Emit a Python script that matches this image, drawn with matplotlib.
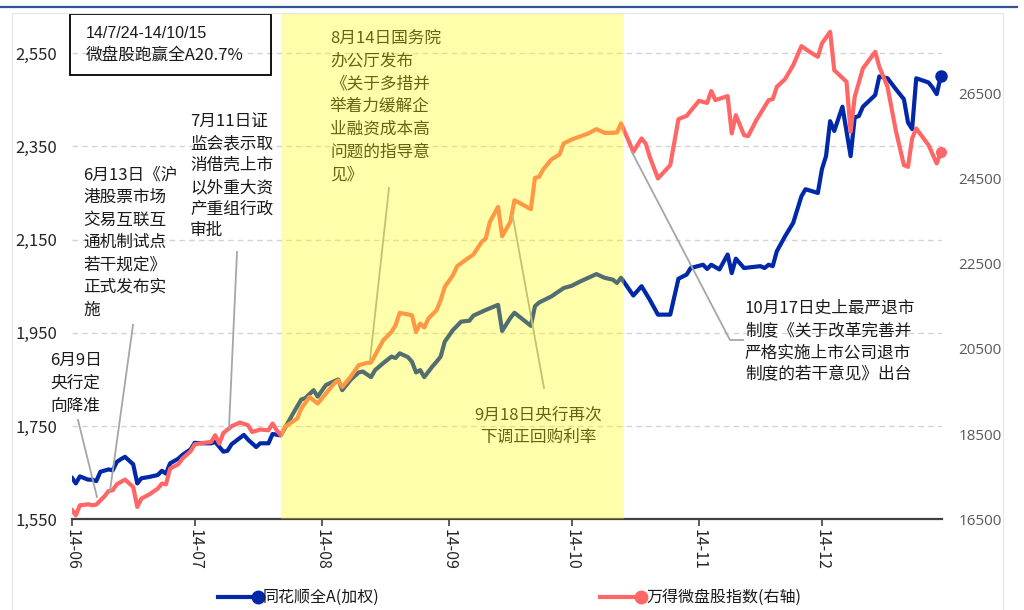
import matplotlib
matplotlib.use("Agg")
import matplotlib.pyplot as plt
from matplotlib.lines import Line2D
from matplotlib.patches import Rectangle
from matplotlib.ticker import FuncFormatter
import pandas as pd

plt.rcParams['font.family'] = ['Noto Sans CJK SC', 'DejaVu Sans']

# ---------------- data ----------------
blue_dates = [
    '06-01', '06-02', '06-03', '06-05', '06-06', '06-07', '06-08', '06-10', '06-11', '06-12', '06-13', '06-14',
    '06-16', '06-17', '06-18', '06-20', '06-22', '06-23', '06-24', '06-25', '06-27', '06-28', '06-30',
    '07-01', '07-03', '07-05', '07-06', '07-08', '07-09', '07-10', '07-13', '07-14', '07-16', '07-17', '07-19',
    '07-20', '07-22', '07-25', '07-27', '07-28', '07-30', '07-31',
    '08-02', '08-05', '08-06', '08-08', '08-10', '08-11', '08-13', '08-14', '08-16', '08-18', '08-19', '08-20',
    '08-22', '08-23', '08-24', '08-25', '08-26', '08-28', '08-29', '08-30', '08-31',
    '09-02', '09-04', '09-06', '09-07', '09-10', '09-13', '09-14', '09-16', '09-17', '09-21', '09-22', '09-23',
    '09-26', '09-29',
    '10-01', '10-03', '10-05', '10-07', '10-09', '10-11', '10-12', '10-13', '10-16', '10-18', '10-20', '10-22',
    '10-25', '10-27', '10-29', '10-30',
    '11-02', '11-03', '11-04', '11-06', '11-08', '11-09', '11-10', '11-12', '11-16', '11-17', '11-18', '11-19',
    '11-20', '11-22', '11-24', '11-26', '11-27', '11-30',
    '12-01', '12-02', '12-03', '12-04', '12-06', '12-08', '12-09', '12-10', '12-11', '12-14', '12-15', '12-17',
    '12-19', '12-21', '12-22', '12-23', '12-24', '12-27', '12-28', '12-29', '12-30',
]
blue_values = [
    1640, 1627, 1642, 1635, 1635, 1632, 1652, 1657, 1655, 1673, 1679, 1684,
    1668, 1627, 1638, 1641, 1645, 1654, 1648, 1670, 1680, 1688, 1700,
    1714, 1713, 1713, 1716, 1695, 1697, 1711, 1731, 1721, 1705, 1713, 1713,
    1733, 1730, 1777, 1807, 1810, 1827, 1813,
    1838, 1850, 1827, 1849, 1865, 1867, 1855, 1870, 1885, 1899, 1896, 1906,
    1898, 1888, 1865, 1870, 1855, 1878, 1888, 1899, 1931,
    1956, 1974, 1976, 1987, 1999, 2010, 1954, 1982, 1993, 1965, 2007, 2015,
    2028, 2046,
    2051, 2060, 2068, 2076, 2068, 2064, 2057, 2068, 2030, 2050, 2021, 1989,
    1989, 2066, 2075, 2089,
    2096, 2087, 2096, 2086, 2118, 2078, 2109, 2089, 2093, 2089, 2096, 2093,
    2125, 2157, 2186, 2243, 2258, 2250,
    2301, 2329, 2404, 2383, 2435, 2329, 2412, 2415, 2435, 2460, 2500, 2496,
    2473, 2451, 2401, 2387, 2496, 2487, 2476, 2462, 2501,
]
red_dates = [
    '06-01', '06-02', '06-03', '06-05', '06-06', '06-07', '06-09', '06-10', '06-11', '06-12', '06-14', '06-16',
    '06-17', '06-18', '06-20', '06-22', '06-23', '06-24', '06-25', '06-27', '06-28', '06-30',
    '07-01', '07-03', '07-05', '07-06', '07-07', '07-08', '07-10', '07-12', '07-14', '07-15', '07-17', '07-19',
    '07-20', '07-21', '07-22', '07-23', '07-26', '07-27', '07-29', '07-31',
    '08-02', '08-04', '08-05', '08-06', '08-08', '08-10', '08-12', '08-13', '08-14', '08-16', '08-18', '08-19',
    '08-20', '08-23', '08-24', '08-25', '08-26', '08-27', '08-29', '08-30', '08-31',
    '09-02', '09-03', '09-05', '09-07', '09-09', '09-10', '09-11', '09-13', '09-14', '09-16', '09-17', '09-21',
    '09-22', '09-23', '09-24', '09-26', '09-28', '09-29',
    '10-01', '10-05', '10-07', '10-09', '10-11', '10-12', '10-13', '10-16', '10-18', '10-19', '10-20', '10-22',
    '10-25', '10-27', '10-29',
    '11-01', '11-03', '11-04', '11-05', '11-08', '11-09', '11-10', '11-12', '11-13', '11-15', '11-18', '11-19',
    '11-20', '11-22', '11-24', '11-26', '11-28', '11-30',
    '12-01', '12-03', '12-04', '12-07', '12-08', '12-09', '12-11', '12-14', '12-15', '12-17', '12-19', '12-21',
    '12-22', '12-23', '12-24', '12-27', '12-29', '12-30',
]
red_values = [
    16728, 16594, 16829, 16852, 16829, 16845, 17040, 17164, 17181, 17322, 17432, 17258,
    16789, 16986, 17087, 17221, 17338, 17322, 17690, 17791, 17925, 18096,
    18258, 18291, 18315, 18472, 18277, 18526, 18683, 18770, 18707, 18549, 18606, 18589,
    18746, 18589, 18472, 18667, 18864, 19099, 19371, 19216,
    19451, 19685, 19763, 19606, 19840, 20115, 20169, 20178, 20350, 20702, 20897, 21054,
    21343, 21289, 20897, 21094, 21000, 21211, 21406, 21641, 21953,
    22228, 22439, 22580, 22714, 23009, 23089, 23479, 23831, 23143, 23479, 23988, 23777,
    24512, 24535, 24709, 24944, 25061, 25319,
    25413, 25554, 25655, 25568, 25568, 25577, 25789, 25122, 25437, 25319, 25005, 24498,
    24810, 25890, 25967,
    26319, 26270, 26547, 26336, 26430, 25554, 25984, 25514, 25491, 25866, 26336, 26359,
    26648, 26829, 27157, 27603, 27469, 27352,
    27667, 27939, 27040, 26765, 25592, 26413, 27080, 27469, 27117, 26648, 25631, 24810,
    24770, 25437, 25671, 25279, 24850, 25122,
]
left_ticks = [1550, 1750, 1950, 2150, 2350, 2550]
right_ticks = [16500, 18500, 20500, 22500, 24500, 26500]
month_ticks = ['2014-06-01', '2014-07-01', '2014-08-01', '2014-09-01', '2014-10-01', '2014-11-01', '2014-12-01']
month_labels = ['14-06', '14-07', '14-08', '14-09', '14-10', '14-11', '14-12']
highlight_start, highlight_end = '2014-07-22', '2014-10-13 16:00'
series_names = ['同花顺全A(加权)', '万得微盘股指数(右轴)']
box_lines = ['14/7/24-14/10/15', '微盘股跑赢全A20.7%']
note_0609 = ['6月9日', '央行定', '向降准']
note_0613 = ['6月13日《沪', '港股票市场', '交易互联互', '通机制试点', '若干规定》', '正式发布实', '施']
note_0711 = ['7月11日证', '监会表示取', '消借壳上市', '以外重大资', '产重组行政', '审批']
note_0814 = ['8月14日国务院', '办公厅发布', '《关于多措并', '举着力缓解企', '业融资成本高', '问题的指导意', '见》']
note_0918 = ['9月18日央行再次', '下调正回购利率']
note_1017 = ['10月17日史上最严退市', '制度《关于改革完善并', '严格实施上市公司退市', '制度的若干意见》出台']

# ---------------- style ----------------
BLUE = '#0028A8'
RED = '#FF6666'
TXT = '#1A1A1A'
LEAD = '#A6A6A6'
W, H = 1024, 610
L, R, B, T = 71.7, 941.5, 519.3, 13.0

fig = plt.figure(figsize=(W / 100, H / 100), dpi=100)
ax = fig.add_axes([L / W, 1 - B / H, (R - L) / W, (B - T) / H])
ax2 = ax.twinx()

bd = pd.to_datetime(['2014-' + s for s in blue_dates])
rd = pd.to_datetime(['2014-' + s for s in red_dates])

ax.plot(bd, blue_values, color=BLUE, lw=3.0, solid_joinstyle='round', solid_capstyle='round', zorder=3)
ax.plot(bd[-1:], blue_values[-1:], 'o', color=BLUE, ms=8, zorder=4, clip_on=False)
ax2.plot(rd, red_values, color=RED, lw=3.0, solid_joinstyle='round', solid_capstyle='round', zorder=3)
ax2.plot(rd[-1:], red_values[-1:], 'o', color=RED, ms=7, zorder=4, clip_on=False)

ax.set_xlim(pd.Timestamp('2014-06-01'), pd.Timestamp('2014-12-30 04:00'))
ax.set_ylim(1550, 2636)
ax2.set_ylim(16500, 28380)

ax.set_yticks(left_ticks)
ax.yaxis.set_major_formatter(FuncFormatter(lambda v, p: f'{v:,.0f}'))
ax.tick_params(axis='y', length=0, pad=10.5, labelsize=12, labelcolor='#262626')
ax2.set_yticks(right_ticks)
ax2.tick_params(axis='y', length=0, pad=12, labelsize=11, labelcolor='#595959')
for lab in ax2.get_yticklabels():
    lab.set_fontfamily(['Open Sans', 'DejaVu Sans'])

ax.set_xticks(pd.to_datetime(month_ticks))
ax.set_xticklabels(month_labels, rotation=-90, fontsize=11.5, color='#262626')
ax.tick_params(axis='x', direction='out', length=5, width=1.2, color='#404040', pad=2)

for s in ['left', 'right', 'top']:
    ax.spines[s].set_visible(False)
for s in ax2.spines.values():
    s.set_visible(False)
ax.spines['bottom'].set_color('#404040')
ax.spines['bottom'].set_linewidth(1.6)

for v in left_ticks[1:]:
    ax.axhline(v, color='#D4D4D4', lw=1.0, ls=(0, (4, 3)), zorder=1)

# yellow translucent overlay on top of everything in the window
ax2.axvspan(pd.Timestamp(highlight_start), pd.Timestamp(highlight_end), facecolor=(1, 1, 0), alpha=0.33,
            lw=0, zorder=10)


def fx(x, y):
    return x / W, 1 - y / H


def block(lines, x, y0, step=21.8, ha='left', size=12):
    for i, s in enumerate(lines):
        xx, yy = fx(x, y0 + i * step)
        ax2.text(xx, yy, s, transform=fig.transFigure, ha=ha, va='center', fontsize=size, color=TXT,
                 zorder=5, clip_on=False)


def lead(pts):
    xs = [p[0] / W for p in pts]
    ys = [1 - p[1] / H for p in pts]
    ln = Line2D(xs, ys, transform=fig.transFigure, color=LEAD, lw=1.3, zorder=4, clip_on=False)
    ax2.add_artist(ln)


block(note_0609, 50, 360, step=23.5)
lead([(78, 420), (97, 497)])
block(note_0613, 83, 175, step=22.5)
lead([(133, 325), (110, 491)])
block(note_0711, 190, 122, step=21.8)
lead([(237, 252), (229, 428)])
block(note_0814, 330, 38, step=22.8)
lead([(389, 188), (370, 360)])
block(note_0918, 538, 415, step=22, ha='center')
lead([(544, 388), (512.7, 216)])
block(note_1017, 745, 308, step=22.3)
lead([(631.7, 151.7), (730, 340), (743, 340)])

# top-left box
fig.add_artist(Rectangle(fx(70, 75), 201 / W, 61 / H, transform=fig.transFigure, fill=False,
                         ec='black', lw=1.3))
fig.text(*fx(86, 33), box_lines[0], fontsize=11.5, family=['Liberation Sans', 'DejaVu Sans'],
         color=TXT, va='center', ha='left')
fig.text(*fx(86, 55), box_lines[1], fontsize=12, color=TXT, va='center', ha='left')

# top blue rule and faint chart frame
fig.add_artist(Line2D([0, 1017 / W], [1 - 7 / H] * 2, transform=fig.transFigure, color='#2F5597', lw=1.6))
fig.add_artist(Line2D([12 / W, 12 / W, 1003 / W, 1003 / W], [0, 1 - 13 / H, 1 - 13 / H, 0],
                      transform=fig.transFigure, color='#E6E6E6', lw=0.8))

# legend
for (x0, x1, xt), col, name in [((218, 258, 263), BLUE, series_names[0]),
                                ((600, 641, 646), RED, series_names[1])]:
    y = 597
    fig.add_artist(Line2D([x0 / W, x1 / W], [1 - y / H] * 2, transform=fig.transFigure, color=col, lw=3.0,
                          marker='o', markevery=[1], ms=9))
    fig.text(xt / W, 1 - y / H, name, fontsize=11.5, color=TXT, va='center', ha='left')

fig.savefig('out.png', dpi=100)
